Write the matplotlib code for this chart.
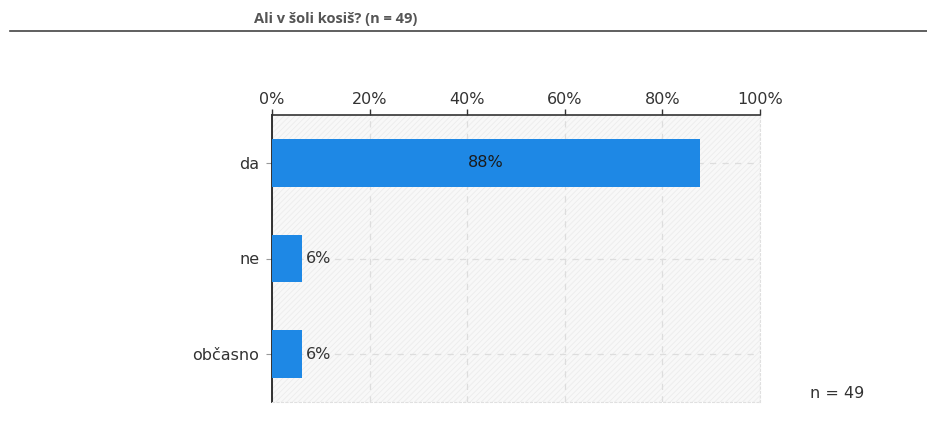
import matplotlib
matplotlib.use("Agg")
import matplotlib.pyplot as plt
from matplotlib.patches import Rectangle

categories = ["da", "ne", "občasno"]
values = [87.8, 6.1, 6.1]
labels = ["88%", "6%", "6%"]
xticks = [0, 20, 40, 60, 80, 100]
xticklabels = ["0%", "20%", "40%", "60%", "80%", "100%"]
title = "Ali v šoli kosiš? (n = 49)"
n_text = "n = 49"

W, H = 928, 443
fig = plt.figure(figsize=(W / 100, H / 100), dpi=100)
plt.rcParams["font.family"] = ["DejaVu Sans"]

# header
fig.text(254 / W, 1 - 19 / H, title, fontsize=10.5, fontweight="bold",
         color="#555555", family="Open Sans", va="center", ha="left")
fig.add_artist(plt.Line2D([10 / W, 1.0], [1 - 31 / H, 1 - 31 / H],
                          color="#444444", lw=1.2))

ax = fig.add_axes([272 / W, 1 - 402 / H, (760 - 272) / W, (402 - 115) / H])
ax.set_xlim(0, 100)
ax.set_ylim(2.5, -0.5)

# hatched background
plt.rcParams["hatch.linewidth"] = 0.6
bg = Rectangle((0, 0), 1, 1, transform=ax.transAxes, facecolor="#f8f8f8",
               edgecolor="#ececec", hatch="//////", lw=0, zorder=0)
ax.add_patch(bg)

y = list(range(len(categories)))
ax.barh(y, values, height=0.5, color="#1e88e5", zorder=3)

for yi, v, lab in zip(y, values, labels):
    if v > 20:
        ax.text(v / 2, yi, lab, ha="center", va="center", fontsize=11.5,
                color="#1a1a1a", zorder=4)
    else:
        ax.text(v + 0.8, yi, lab, ha="left", va="center", fontsize=11.5,
                color="#333333", zorder=4)

ax.set_xticks(xticks)
ax.set_xticklabels(xticklabels)
ax.xaxis.tick_top()
ax.set_yticks(y)
ax.set_yticklabels(categories)
ax.tick_params(axis="x", length=4, width=1, color="#333333", labelsize=11.5,
               labelcolor="#333333", pad=2)
ax.tick_params(axis="y", length=4, width=0.8, color="#999999", labelsize=11.5,
               labelcolor="#333333", pad=5)

ax.grid(True, color="#dddddd", linestyle=(0, (5, 5)), lw=0.9, zorder=1)
ax.set_axisbelow(True)

for s in ["right", "bottom"]:
    ax.spines[s].set_color("#e0e0e0")
    ax.spines[s].set_linestyle((0, (2, 2)))
    ax.spines[s].set_linewidth(0.8)
ax.spines["left"].set_color("#222222")
ax.spines["left"].set_linewidth(1.3)
ax.spines["top"].set_color("#333333")
ax.spines["top"].set_linewidth(1.2)

fig.text(810 / W, 1 - 393 / H, n_text, fontsize=11.5, color="#333333",
         va="center", ha="left")

fig.savefig("out.png", dpi=100, facecolor="white")
